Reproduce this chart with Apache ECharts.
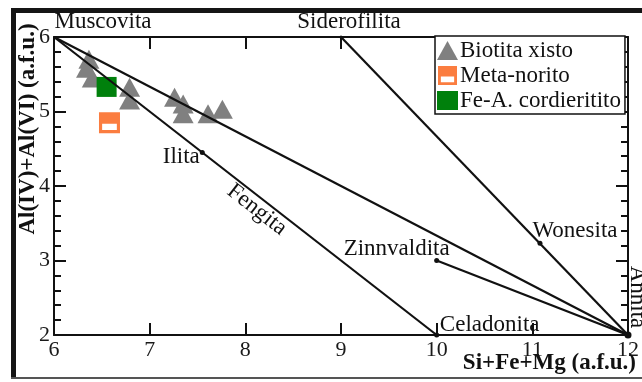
<!DOCTYPE html>
<html>
<head>
<meta charset="utf-8">
<script src="https://cdn.jsdelivr.net/npm/echarts@6/dist/echarts.min.js"></script>
<style>
html,body{margin:0;padding:0;background:#fff;}
#chart{width:642px;height:382px;}
</style>
</head>
<body>
<div id="chart"></div>
<script>
// ---- data ----
const xTicks = [6, 7, 8, 9, 10, 11, 12];
const yTicks = [2, 3, 4, 5, 6];
const biotitaXisto = [
  [6.365, 5.70], [6.34, 5.58], [6.40, 5.45], [6.79, 5.325], [6.79, 5.155],
  [7.26, 5.19], [7.35, 5.10], [7.35, 4.97], [7.61, 4.97], [7.76, 5.03]
];
const metaNorito = [[6.58, 4.85]];
const feCordieritito = [[6.55, 5.33]];
const endmemberNames = ['Muscovita', 'Siderofilita', 'Ilita', 'Celadonita', 'Zinnvaldita', 'Wonesita', 'Annita'];
const endmemberX = [6, 9, 7.55, 10, 10, 11.08, 12];
const endmemberY = [6, 6, 4.45, 2, 3, 3.23, 2];
const tieLines = [['Muscovita', 'Celadonita'], ['Muscovita', 'Annita'], ['Siderofilita', 'Annita'], ['Zinnvaldita', 'Annita']];
const lineLabelName = 'Fengita';
const lineLabelPos = [8.12, 3.68];

// ---- styles ----
const serif = "'Liberation Serif', 'Times New Roman', serif";
const ink = '#111';
const labelStyle = {
  Muscovita: {offset: [49, -15], size: 0},
  Siderofilita: {offset: [8, -15], size: 3},
  Ilita: {offset: [-21, 4], size: 5},
  Celadonita: {offset: [53, -10], size: 5},
  Zinnvaldita: {offset: [-40, -12], size: 5},
  Wonesita: {offset: [35, -12], size: 5},
  Annita: {offset: [-38, -9], size: 7, rotate: -90}
};

const coord = {};
endmemberNames.forEach((n, i) => { coord[n] = [endmemberX[i], endmemberY[i]]; });

const lineSeries = tieLines.map((pair, i) => ({
  type: 'line', name: 'tie' + i, data: [coord[pair[0]], coord[pair[1]]],
  symbol: 'none', lineStyle: {color: ink, width: 2.2}, z: 5, silent: true,
  legendHoverLink: false
}));

const endmemberData = endmemberNames.map((n, i) => {
  const s = labelStyle[n];
  return {
    name: n, value: [endmemberX[i], endmemberY[i]], symbolSize: s.size,
    label: {show: true, position: 'inside', offset: s.offset, rotate: s.rotate || 0}
  };
});
endmemberData.push({
  name: lineLabelName, value: lineLabelPos, symbolSize: 0,
  label: {show: true, position: 'inside', offset: [0, 0], rotate: -38}
});

const metaPath = 'path://M0,0 L20,0 L20,20 L0,20 Z M3,11 L3,17 L17,17 L17,11 Z';

const option = {
  animation: false,
  backgroundColor: '#fff',
  grid: {left: 54, right: 12, top: 37, bottom: 47},
  legend: {
    orient: 'vertical', left: 435, top: 36,
    data: ['Biotita xisto', 'Meta-norito', 'Fe-A. cordieritito'],
    itemWidth: 21, itemHeight: 19, itemGap: 2,
    padding: [3, 4, 2, 2],
    borderColor: ink, borderWidth: 1.5, backgroundColor: '#fff',
    textStyle: {fontFamily: serif, fontSize: 23, color: ink, padding: [0, 0, 0, -3]}
  },
  xAxis: [{
    type: 'value', min: 6, max: 12, interval: 1,
    axisLine: {lineStyle: {color: ink, width: 2}},
    axisTick: {inside: true, length: 12, lineStyle: {color: ink, width: 2}},
    axisLabel: {fontFamily: serif, fontSize: 22, color: '#1a1a1a', margin: 4,
      formatter: v => xTicks.includes(v) ? String(v) : ''},
    splitLine: {show: false}
  }, {
    type: 'value', position: 'top', min: 6, max: 12, interval: 1,
    axisLine: {lineStyle: {color: ink, width: 2}},
    axisTick: {inside: true, length: 12, lineStyle: {color: ink, width: 2}},
    axisLabel: {show: false}, splitLine: {show: false}
  }],
  yAxis: [{
    type: 'value', min: 2, max: 6, interval: 1,
    axisLine: {lineStyle: {color: ink, width: 2}},
    axisTick: {inside: true, length: 12, lineStyle: {color: ink, width: 2}},
    minorTick: {show: true, splitNumber: 5, length: 7, lineStyle: {color: ink, width: 2}},
    axisLabel: {fontFamily: serif, fontSize: 22, color: '#1a1a1a', margin: 4,
      formatter: v => yTicks.includes(v) ? String(v) : ''},
    splitLine: {show: false}, minorSplitLine: {show: false}
  }, {
    type: 'value', position: 'right', min: 2, max: 6, interval: 1,
    axisLine: {lineStyle: {color: ink, width: 2}},
    axisTick: {inside: true, length: 12, lineStyle: {color: ink, width: 2}},
    minorTick: {show: true, splitNumber: 5, length: 7, lineStyle: {color: ink, width: 2}},
    axisLabel: {show: false}, splitLine: {show: false}
  }],
  series: [
    {type: 'scatter', name: 'Biotita xisto', data: biotitaXisto, symbol: 'triangle',
      symbolSize: [21, 19], itemStyle: {color: '#808080', opacity: 1}, z: 2},
    {type: 'scatter', name: 'Meta-norito', data: metaNorito, symbol: metaPath,
      symbolSize: [21, 21], itemStyle: {color: '#fb7d40', opacity: 1}, z: 3},
    {type: 'scatter', name: 'Fe-A. cordieritito', data: feCordieritito, symbol: 'rect',
      symbolSize: [20, 20], itemStyle: {color: '#00800c', opacity: 1}, z: 3},
    ...lineSeries,
    {type: 'scatter', name: 'endmembers', data: endmemberData, symbol: 'circle',
      itemStyle: {color: ink, opacity: 1}, z: 6, silent: true,
      label: {formatter: '{b}', fontFamily: serif, fontSize: 23, color: '#111',
        align: 'center', verticalAlign: 'middle'}}
  ],
  graphic: [
    {type: 'rect', shape: {x: 11, y: 8, width: 5, height: 371}, style: {fill: '#151515'}, z: 100},
    {type: 'rect', shape: {x: 11, y: 8, width: 631, height: 5}, style: {fill: '#151515'}, z: 100},
    {type: 'rect', shape: {x: 11, y: 377, width: 631, height: 2}, style: {fill: '#555'}, z: 100},
    {type: 'text', x: 636, y: 363, z: 100,
      style: {text: 'Si+Fe+Mg (a.f.u.)', font: 'bold 23px ' + serif, fill: ink,
        textAlign: 'right', textVerticalAlign: 'middle'}},
    {type: 'text', x: 28, y: 129, rotation: Math.PI / 2, z: 100,
      style: {text: 'Al(IV)+Al(VI) (a.f.u.)', font: 'bold 23px ' + serif, fill: ink,
        textAlign: 'center', textVerticalAlign: 'middle'}}
  ]
};

const chart = echarts.init(document.getElementById('chart'), null, {renderer: 'canvas'});
chart.setOption(option);
</script>
</body>
</html>
